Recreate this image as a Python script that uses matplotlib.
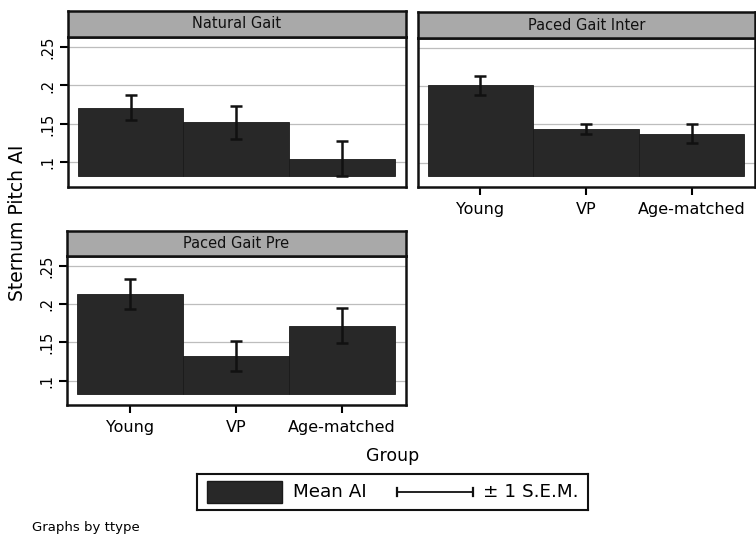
import matplotlib
matplotlib.use("Agg")
import matplotlib.pyplot as plt
from matplotlib.patches import Rectangle

plt.rcParams['font.family'] = ['DejaVu Sans']

W, H = 756, 538

groups = ["Young", "VP", "Age-matched"]
panels = ["Natural Gait", "Paced Gait Inter", "Paced Gait Pre"]

natural_mean = [0.171, 0.152, 0.105]
natural_sem = [0.016, 0.021, 0.023]
inter_mean = [0.201, 0.144, 0.138]
inter_sem = [0.012, 0.0065, 0.013]
pre_mean = [0.213, 0.132, 0.172]
pre_sem = [0.020, 0.020, 0.023]

y_ticks = [0.1, 0.15, 0.2, 0.25]
y_tick_labels = [".1", ".15", ".2", ".25"]
bar_base = 0.082

means = [natural_mean, inter_mean, pre_mean]
sems = [natural_sem, inter_sem, pre_sem]

BAR_COLOR = "#282828"
STRIP_COLOR = "#a9a9a9"
GRID_COLOR = "#bdbdbd"


def rect(x0, y0, x1, y1):
    return [x0 / W, 1 - y1 / H, (x1 - x0) / W, (y1 - y0) / H]


fig = plt.figure(figsize=(W / 100, H / 100), dpi=100)
fig.patch.set_facecolor("white")

# (box left, strip top, strip bottom, plot bottom, box right)
layout = [
    (68, 11, 37, 187, 406),
    (418, 12, 38, 187, 755),
    (67, 231, 256, 405, 406),
]
show_x = [False, True, True]
show_y = [True, False, True]

for i, (x0, st, sb, pb, x1) in enumerate(layout):
    ax = fig.add_axes(rect(x0, sb, x1, pb))
    xs = range(1, len(groups) + 1)
    heights = [m - bar_base for m in means[i]]
    ax.bar(xs, heights, bottom=bar_base, width=1.0, color=BAR_COLOR,
           edgecolor="#1a1a1a", linewidth=0.6, zorder=2)
    ax.errorbar(xs, means[i], yerr=sems[i], fmt="none", ecolor="#111111",
                elinewidth=1.8, capsize=4.2, capthick=1.8, zorder=3)
    ax.set_xlim(0.41, 3.6)
    ax.set_ylim(0.068, 0.263)
    ax.set_yticks(y_ticks)
    for t in y_ticks:
        ax.axhline(t, color=GRID_COLOR, linewidth=0.9, zorder=1)
    for s in ax.spines.values():
        s.set_linewidth(1.8)
        s.set_color("#111111")
    if show_y[i]:
        ax.set_yticklabels(y_tick_labels, rotation=90, va="center", fontsize=10.5)
        ax.tick_params(axis="y", length=6, width=1.5, pad=3)
    else:
        ax.tick_params(axis="y", left=False, labelleft=False)
    ax.set_xticks(list(xs))
    if show_x[i]:
        ax.set_xticklabels(groups, fontsize=11.5)
        ax.tick_params(axis="x", length=6, width=1.5, pad=5)
    else:
        ax.tick_params(axis="x", bottom=False, labelbottom=False)

    # panel title strip
    sax = fig.add_axes(rect(x0, st, x1, sb))
    sax.set_facecolor(STRIP_COLOR)
    sax.set_xticks([])
    sax.set_yticks([])
    for s in sax.spines.values():
        s.set_linewidth(1.8)
        s.set_color("#111111")
    sax.text(0.5, 0.5, panels[i], ha="center", va="center", fontsize=10.5,
             color="#111111", transform=sax.transAxes)

# shared axis titles
fig.text(18 / W, 1 - 223 / H, "Sternum Pitch AI", rotation=90, ha="center",
         va="center", fontsize=13.5)
fig.text(393 / W, 1 - 456 / H, "Group", ha="center", va="center", fontsize=12.5)

# legend
lax = fig.add_axes(rect(197, 474, 588, 510))
lax.set_xlim(0, 391)
lax.set_ylim(0, 36)
lax.set_xticks([])
lax.set_yticks([])
for s in lax.spines.values():
    s.set_linewidth(1.5)
    s.set_color("#111111")
lax.add_patch(Rectangle((10, 7), 75, 22, facecolor=BAR_COLOR, edgecolor="#1a1a1a"))
lax.text(96, 18, "Mean AI", ha="left", va="center", fontsize=13.2)
lax.plot([200, 276], [18, 18], color="#111111", linewidth=1.3)
lax.plot([200, 200], [14, 22], color="#111111", linewidth=1.6)
lax.plot([276, 276], [14, 22], color="#111111", linewidth=1.6)
lax.text(286, 18, "\u00b1 1 S.E.M.", ha="left", va="center", fontsize=13.2)

fig.text(32 / W, 1 - 527 / H, "Graphs by ttype", ha="left", va="center", fontsize=9.5)

fig.savefig("out.png", dpi=100)
